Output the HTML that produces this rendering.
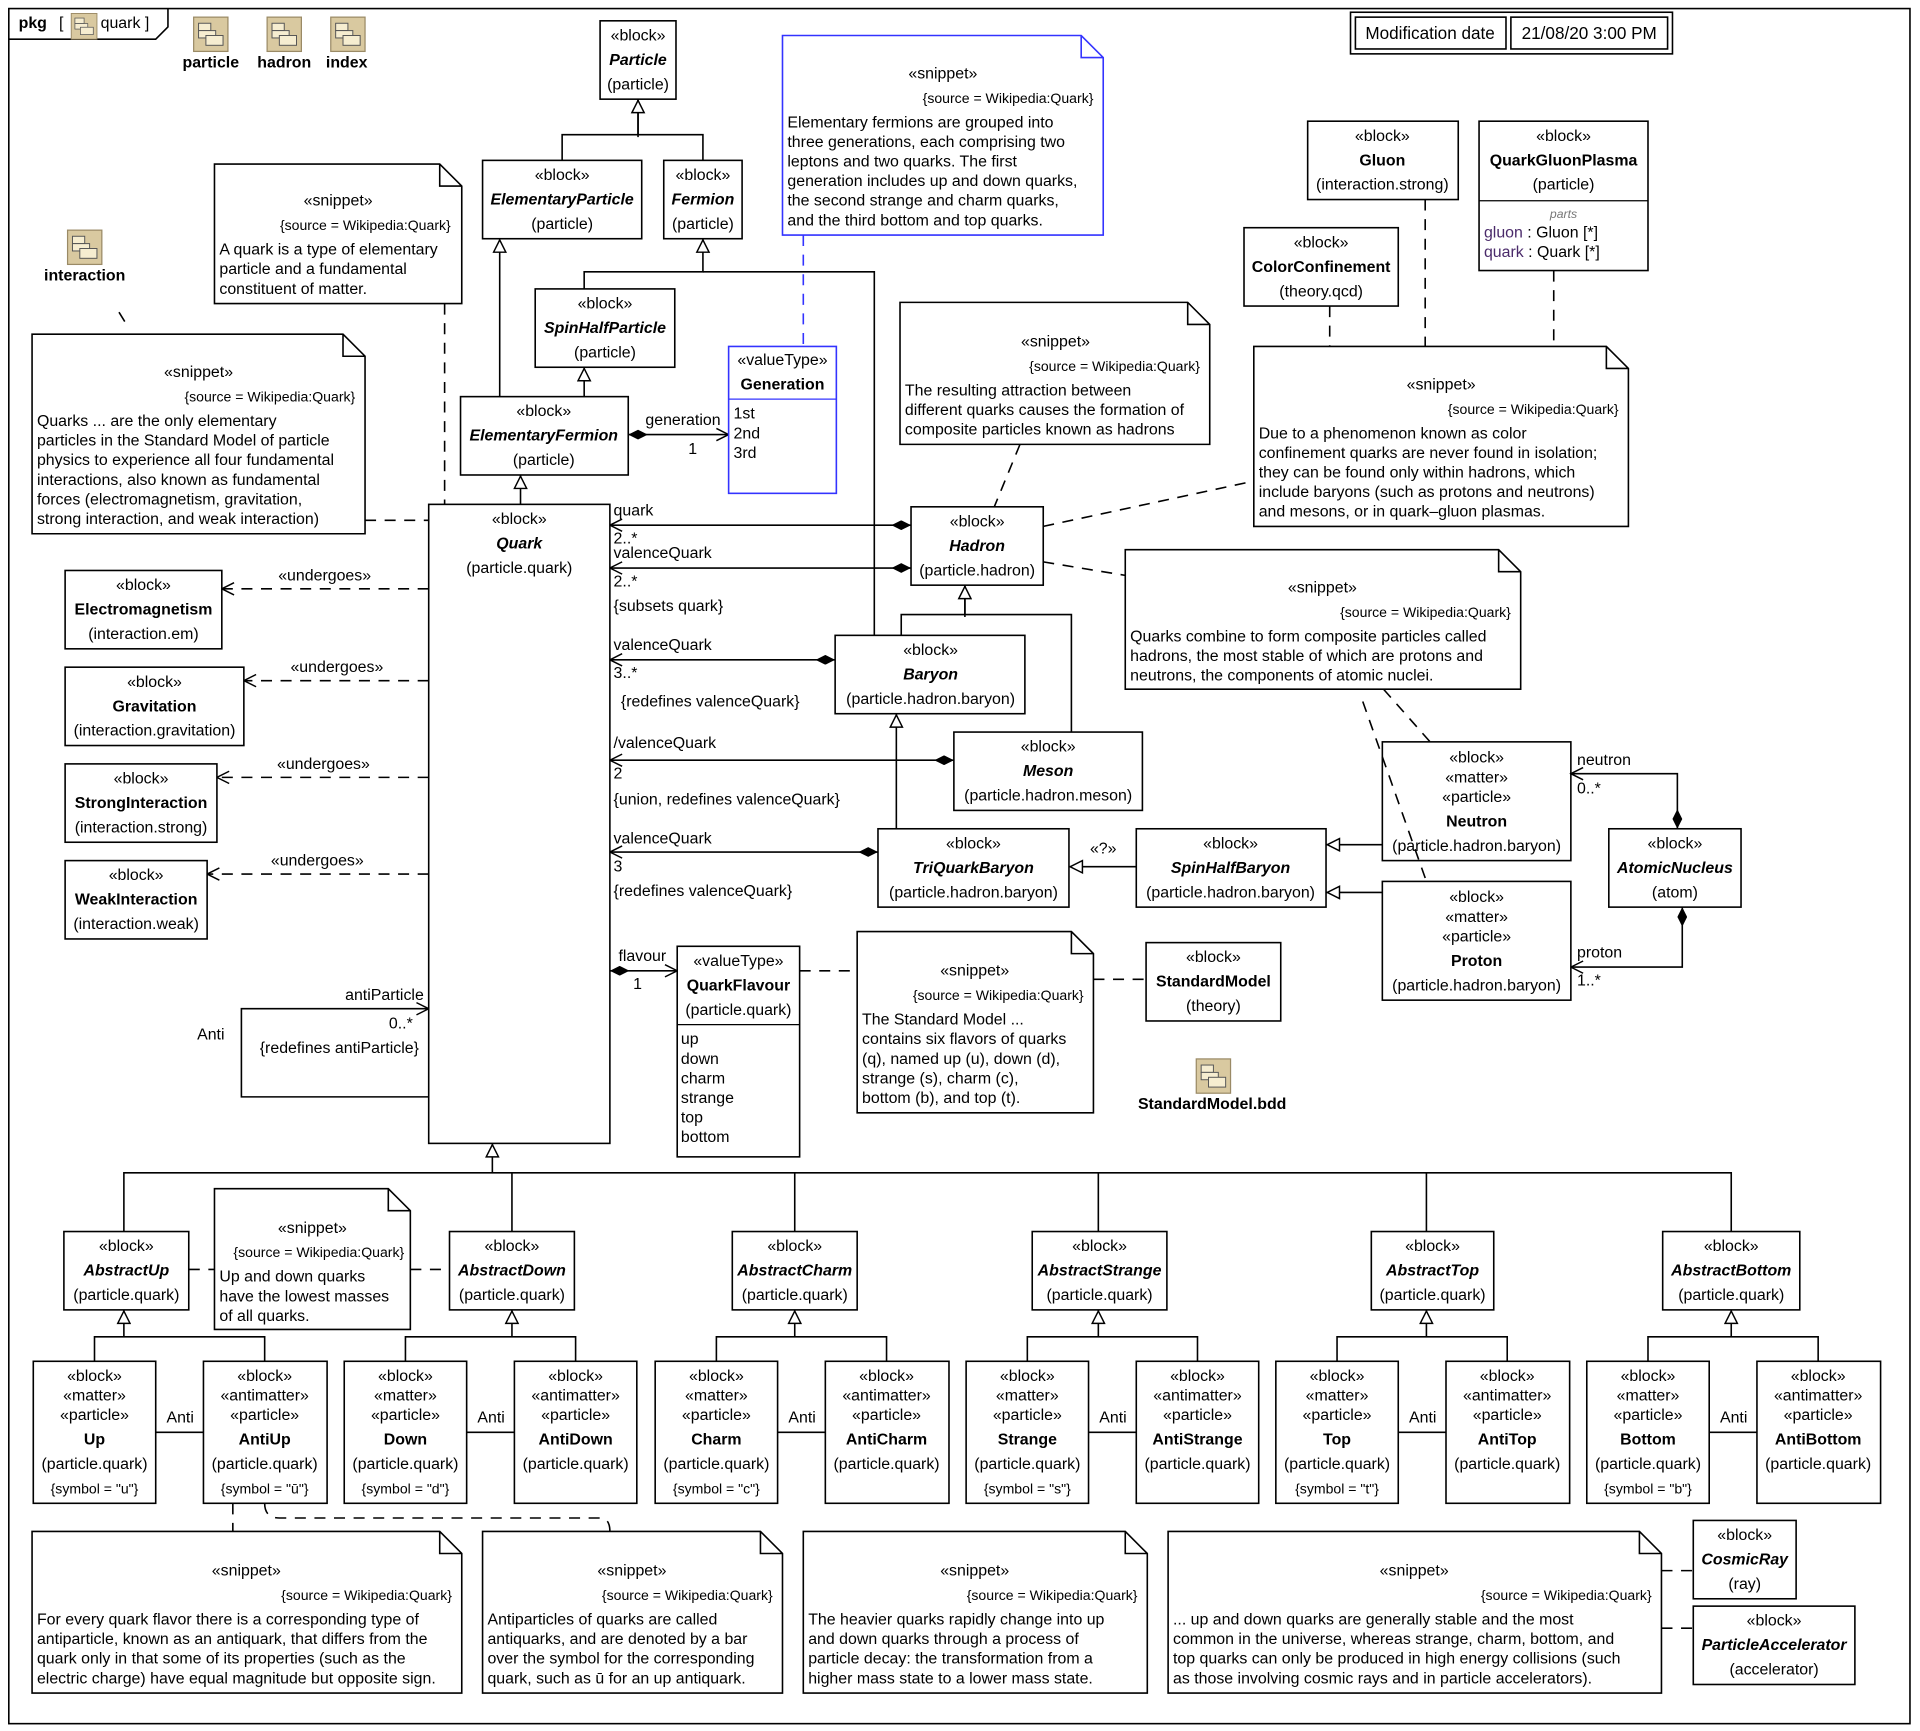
<!DOCTYPE html>
<html><head><meta charset="utf-8"><style>
html,body{margin:0;padding:0;background:#fff;}
svg{display:block;}
text{font-family:"Liberation Sans",Arial,sans-serif;font-size:13px;fill:#000;}
.c{text-anchor:middle;}
.e{text-anchor:end;}
.b{font-weight:bold;}
.i{font-style:italic;}
.bi{font-weight:bold;font-style:italic;}
.s{font-size:11.5px;}
.r{fill:#fff;stroke:#000;stroke-width:1.3;}
.l{fill:none;stroke:#000;stroke-width:1.3;}
.d{fill:none;stroke:#000;stroke-width:1.3;stroke-dasharray:9,7;}
</style></head><body>
<svg width="1920" height="1731" viewBox="0 0 1568 1414" xmlns="http://www.w3.org/2000/svg">
<defs>
<marker id="tri" viewBox="0 0 12 12" refX="12" refY="6" markerWidth="12" markerHeight="12" markerUnits="userSpaceOnUse" orient="auto"><path d="M1,1 L11,6 L1,11 z" fill="#fff" stroke="#000" stroke-width="1.2"/></marker>
<marker id="arr" viewBox="0 0 12 12" refX="11" refY="6" markerWidth="12" markerHeight="12" markerUnits="userSpaceOnUse" orient="auto"><path d="M1,1 L11,6 L1,11" fill="none" stroke="#000" stroke-width="1.2"/></marker>
<marker id="dia" viewBox="0 0 16 8" refX="16" refY="4" markerWidth="16" markerHeight="8" markerUnits="userSpaceOnUse" orient="auto-start-reverse"><path d="M0,4 L8,0 L16,4 L8,8 z" fill="#000"/></marker>
<g id="pk"><rect x="0" y="0" width="28" height="28" fill="#d9c9a0" stroke="#9a8a66"/><rect x="4" y="5" width="10" height="6" fill="#f6edd0" stroke="#555" stroke-width=".8"/><rect x="4" y="11" width="14" height="6" fill="#f6edd0" stroke="#555" stroke-width=".8"/><rect x="10" y="15" width="14" height="8" fill="#f6edd0" stroke="#555" stroke-width=".8"/></g>
</defs>
<rect x="0" y="0" width="1568" height="1414" fill="#fff"/>
<rect x="7" y="7" width="1553" height="1401" class="l"/>
<path d="M7,32 L127,32 L137,22 L137,7" class="l"/>
<text x="15" y="23" class="b">pkg</text><text x="48" y="23">[</text>
<use href="#pk" transform="translate(58,11) scale(0.75)"/>
<text x="82" y="23">quark ]</text>
<use href="#pk" x="158" y="14"/><text x="172" y="55" class="c b">particle</text>
<use href="#pk" x="218" y="14"/><text x="232" y="55" class="c b">hadron</text>
<use href="#pk" x="270" y="14"/><text x="283" y="55" class="c b">index</text>
<use href="#pk" x="55" y="188"/><text x="69" y="229" class="c b">interaction</text>
<use href="#pk" x="977" y="865"/><text x="990" y="906" class="c b">StandardModel.bdd</text>
<rect x="1103" y="10" width="263" height="34" class="l"/>
<rect x="1107" y="14" width="123" height="26" class="l"/><rect x="1234" y="14" width="128" height="26" class="l"/>
<text x="1168" y="32" class="c" style="font-size:14px">Modification date</text><text x="1298" y="32" class="c" style="font-size:14px">21/08/20 3:00 PM</text>

<!-- connectors -->
<path d="M459,131 V110 H574 V131 M521,110 V81" class="l"/><path d="M521,112 V81" class="l" marker-end="url(#tri)"/>
<path d="M408,324 V195" class="l" marker-end="url(#tri)"/>
<path d="M477,236 V222 H574 V195" class="l" marker-end="url(#tri)"/>
<path d="M574,222 H714 V519" class="l"/>
<path d="M477,324 V300" class="l" marker-end="url(#tri)"/>
<path d="M425,412 V388" class="l" marker-end="url(#tri)"/>
<path d="M513,355 H595" class="l" marker-start="url(#dia)" marker-end="url(#arr)"/>
<text x="527" y="347">generation</text><text x="562" y="371">1</text>
<path d="M744,429 H498" class="l" marker-start="url(#dia)" marker-end="url(#arr)"/>
<path d="M744,464 H498" class="l" marker-start="url(#dia)" marker-end="url(#arr)"/>
<path d="M682,539 H498" class="l" marker-start="url(#dia)" marker-end="url(#arr)"/>
<path d="M779,621 H498" class="l" marker-start="url(#dia)" marker-end="url(#arr)"/>
<path d="M717,696 H498" class="l" marker-start="url(#dia)" marker-end="url(#arr)"/>
<text x="501" y="421">quark</text><text x="501" y="444">2..*</text>
<text x="501" y="456">valenceQuark</text><text x="501" y="479">2..*</text><text x="501" y="499">{subsets quark}</text>
<text x="501" y="531">valenceQuark</text><text x="501" y="554">3..*</text><text x="507" y="577">{redefines valenceQuark}</text>
<text x="501" y="611">/valenceQuark</text><text x="501" y="636">2</text><text x="501" y="657">{union, redefines valenceQuark}</text>
<text x="501" y="689">valenceQuark</text><text x="501" y="712">3</text><text x="501" y="732">{redefines valenceQuark}</text>
<path d="M736,519 V502 H875 V598 M788,502 V478" class="l"/><path d="M788,504 V478" class="l" marker-end="url(#tri)"/>
<path d="M732,677 V583" class="l" marker-end="url(#tri)"/>
<path d="M928,708 H873" class="l" marker-end="url(#tri)"/><text x="901" y="697" class="c">«?»</text>
<path d="M1129,690 H1083" class="l" marker-end="url(#tri)"/>
<path d="M1129,729 H1083" class="l" marker-end="url(#tri)"/>
<path d="M1370,677 V632 H1283" class="l" marker-start="url(#dia)" marker-end="url(#arr)"/>
<path d="M1374,741 V790 H1283" class="l" marker-start="url(#dia)" marker-end="url(#arr)"/>
<text x="1288" y="625">neutron</text><text x="1288" y="648">0..*</text>
<text x="1288" y="782">proton</text><text x="1288" y="805">1..*</text>
<path d="M498,793 H553" class="l" marker-start="url(#dia)" marker-end="url(#arr)"/>
<text x="505" y="785">flavour</text><text x="517" y="808">1</text>
<path d="M350,896 H197 V824 H350" class="l" marker-end="url(#arr)"/>
<text x="346" y="817" class="e">antiParticle</text><text x="337" y="840" class="e">0..*</text>
<text x="277" y="860" class="c">{redefines antiParticle}</text><text x="172" y="849" class="c">Anti</text>
<path d="M350,481 H181" class="d" marker-end="url(#arr)"/><text x="265" y="474" class="c">«undergoes»</text>
<path d="M350,556 H199" class="d" marker-end="url(#arr)"/><text x="275" y="549" class="c">«undergoes»</text>
<path d="M350,635 H177" class="d" marker-end="url(#arr)"/><text x="264" y="628" class="c">«undergoes»</text>
<path d="M350,714 H169" class="d" marker-end="url(#arr)"/><text x="259" y="707" class="c">«undergoes»</text>
<path d="M402,958 V934" class="l" marker-end="url(#tri)"/>
<path d="M101,1006 V958 H1414 V1006 M418,958 V1006 M649,958 V1006 M897,958 V1006 M1165,958 V1006" class="l"/>
<g class="l">
<path d="M77,1112 V1092 H216 V1112" class="l"/><path d="M101,1092 V1070" class="l" marker-end="url(#tri)"/>
<path d="M331,1112 V1092 H470 V1112" class="l"/><path d="M418,1092 V1070" class="l" marker-end="url(#tri)"/>
<path d="M585,1112 V1092 H724 V1112" class="l"/><path d="M649,1092 V1070" class="l" marker-end="url(#tri)"/>
<path d="M839,1112 V1092 H978 V1112" class="l"/><path d="M897,1092 V1070" class="l" marker-end="url(#tri)"/>
<path d="M1092,1112 V1092 H1231 V1112" class="l"/><path d="M1165,1092 V1070" class="l" marker-end="url(#tri)"/>
<path d="M1346,1112 V1092 H1485 V1112" class="l"/><path d="M1414,1092 V1070" class="l" marker-end="url(#tri)"/>
<path d="M127,1170 H166 M381,1170 H420 M635,1170 H674 M889,1170 H928 M1142,1170 H1181 M1396,1170 H1435" class="l"/>
</g>
<text x="147" y="1162" class="c">Anti</text><text x="401" y="1162" class="c">Anti</text><text x="655" y="1162" class="c">Anti</text><text x="909" y="1162" class="c">Anti</text><text x="1162" y="1162" class="c">Anti</text><text x="1416" y="1162" class="c">Anti</text>
<!-- dashed anchors -->
<path d="M363,248 V412 M298,425 H350 M97,255 L105,268 M833,363 L812,414 M852,430 L1024,393 M1086,250 V283 M1164,163 V283 M1269,221 V283 M852,459 L919,470 M1113,573 L1165,720 M1130,563 L1168,606 M653,793 H700 M893,800 H936 M154,1037 H175 M335,1037 H367 M190,1228 V1251 M216,1228 Q216,1240 228,1240 H490 Q498,1240 498,1251 M1357,1283 H1383 M1357,1330 H1383" class="d"/>
<path d="M656,192 V283" fill="none" stroke="#33f" stroke-width="1.3" stroke-dasharray="9,7"/>

<!-- blocks -->
<rect x="490" y="17" width="62" height="64" class="r"/><text x="521" y="33" class="c">«block»</text><text x="521" y="53" class="c bi">Particle</text><text x="521" y="73" class="c">(particle)</text>
<rect x="394" y="131" width="130" height="64" class="r"/><text x="459" y="147" class="c">«block»</text><text x="459" y="167" class="c bi">ElementaryParticle</text><text x="459" y="187" class="c">(particle)</text>
<rect x="542" y="131" width="64" height="64" class="r"/><text x="574" y="147" class="c">«block»</text><text x="574" y="167" class="c bi">Fermion</text><text x="574" y="187" class="c">(particle)</text>
<rect x="437" y="236" width="114" height="64" class="r"/><text x="494" y="252" class="c">«block»</text><text x="494" y="272" class="c bi">SpinHalfParticle</text><text x="494" y="292" class="c">(particle)</text>
<rect x="376" y="324" width="137" height="64" class="r"/><text x="444" y="340" class="c">«block»</text><text x="444" y="360" class="c bi">ElementaryFermion</text><text x="444" y="380" class="c">(particle)</text>
<rect x="595" y="283" width="88" height="120" fill="#fff" stroke="#33f" stroke-width="1.3"/><text x="639" y="298" class="c">«valueType»</text><text x="639" y="318" class="c b">Generation</text><line x1="595" y1="326" x2="683" y2="326" stroke="#33f"/><text x="599" y="342">1st</text><text x="599" y="358">2nd</text><text x="599" y="374">3rd</text>
<rect x="350" y="412" width="148" height="522" class="r"/><text x="424" y="428" class="c">«block»</text><text x="424" y="448" class="c bi">Quark</text><text x="424" y="468" class="c">(particle.quark)</text>
<rect x="744" y="414" width="108" height="64" class="r"/><text x="798" y="430" class="c">«block»</text><text x="798" y="450" class="c bi">Hadron</text><text x="798" y="470" class="c">(particle.hadron)</text>
<rect x="682" y="519" width="155" height="64" class="r"/><text x="760" y="535" class="c">«block»</text><text x="760" y="555" class="c bi">Baryon</text><text x="760" y="575" class="c">(particle.hadron.baryon)</text>
<rect x="779" y="598" width="154" height="64" class="r"/><text x="856" y="614" class="c">«block»</text><text x="856" y="634" class="c bi">Meson</text><text x="856" y="654" class="c">(particle.hadron.meson)</text>
<rect x="717" y="677" width="156" height="64" class="r"/><text x="795" y="693" class="c">«block»</text><text x="795" y="713" class="c bi">TriQuarkBaryon</text><text x="795" y="733" class="c">(particle.hadron.baryon)</text>
<rect x="928" y="677" width="155" height="64" class="r"/><text x="1005" y="693" class="c">«block»</text><text x="1005" y="713" class="c bi">SpinHalfBaryon</text><text x="1005" y="733" class="c">(particle.hadron.baryon)</text>
<rect x="1129" y="606" width="154" height="97" class="r" fill-opacity="0"/><text x="1206" y="623" class="c">«block»</text><text x="1206" y="639" class="c">«matter»</text><text x="1206" y="655" class="c">«particle»</text><text x="1206" y="675" class="c b">Neutron</text><text x="1206" y="695" class="c">(particle.hadron.baryon)</text>
<rect x="1129" y="720" width="154" height="97" class="r"/><text x="1206" y="737" class="c">«block»</text><text x="1206" y="753" class="c">«matter»</text><text x="1206" y="769" class="c">«particle»</text><text x="1206" y="789" class="c b">Proton</text><text x="1206" y="809" class="c">(particle.hadron.baryon)</text>
<rect x="1314" y="677" width="108" height="64" class="r"/><text x="1368" y="693" class="c">«block»</text><text x="1368" y="713" class="c bi">AtomicNucleus</text><text x="1368" y="733" class="c">(atom)</text>
<rect x="1068" y="99" width="123" height="64" class="r"/><text x="1129" y="115" class="c">«block»</text><text x="1129" y="135" class="c b">Gluon</text><text x="1129" y="155" class="c">(interaction.strong)</text>
<rect x="1208" y="99" width="138" height="122" class="r"/><text x="1277" y="115" class="c">«block»</text><text x="1277" y="135" class="c b">QuarkGluonPlasma</text><text x="1277" y="155" class="c">(particle)</text><line x1="1208" y1="164" x2="1346" y2="164" stroke="#000"/><text x="1277" y="178" class="c i" style="font-size:10px;fill:#777">parts</text><text x="1212" y="194"><tspan style="fill:#4a2a6a">gluon</tspan> : Gluon [*]</text><text x="1212" y="210"><tspan style="fill:#4a2a6a">quark</tspan> : Quark [*]</text>
<rect x="1016" y="186" width="126" height="64" class="r"/><text x="1079" y="202" class="c">«block»</text><text x="1079" y="222" class="c b">ColorConfinement</text><text x="1079" y="242" class="c">(theory.qcd)</text>
<rect x="53" y="466" width="128" height="64" class="r"/><text x="117" y="482" class="c">«block»</text><text x="117" y="502" class="c b">Electromagnetism</text><text x="117" y="522" class="c">(interaction.em)</text>
<rect x="53" y="545" width="146" height="64" class="r"/><text x="126" y="561" class="c">«block»</text><text x="126" y="581" class="c b">Gravitation</text><text x="126" y="601" class="c">(interaction.gravitation)</text>
<rect x="53" y="624" width="124" height="64" class="r"/><text x="115" y="640" class="c">«block»</text><text x="115" y="660" class="c b">StrongInteraction</text><text x="115" y="680" class="c">(interaction.strong)</text>
<rect x="53" y="703" width="116" height="64" class="r"/><text x="111" y="719" class="c">«block»</text><text x="111" y="739" class="c b">WeakInteraction</text><text x="111" y="759" class="c">(interaction.weak)</text>
<rect x="553" y="773" width="100" height="172" class="r"/><text x="603" y="789" class="c">«valueType»</text><text x="603" y="809" class="c b">QuarkFlavour</text><text x="603" y="829" class="c">(particle.quark)</text><line x1="553" y1="837" x2="653" y2="837" stroke="#000"/>
<text x="556" y="853">up</text><text x="556" y="869">down</text><text x="556" y="885">charm</text><text x="556" y="901">strange</text><text x="556" y="917">top</text><text x="556" y="933">bottom</text>
<rect x="936" y="770" width="110" height="64" class="r"/><text x="991" y="786" class="c">«block»</text><text x="991" y="806" class="c b">StandardModel</text><text x="991" y="826" class="c">(theory)</text>
<g>
<rect x="52" y="1006" width="102" height="64" class="r"/><text x="103" y="1022" class="c">«block»</text><text x="103" y="1042" class="c bi">AbstractUp</text><text x="103" y="1062" class="c">(particle.quark)</text>
<rect x="367" y="1006" width="102" height="64" class="r"/><text x="418" y="1022" class="c">«block»</text><text x="418" y="1042" class="c bi">AbstractDown</text><text x="418" y="1062" class="c">(particle.quark)</text>
<rect x="598" y="1006" width="102" height="64" class="r"/><text x="649" y="1022" class="c">«block»</text><text x="649" y="1042" class="c bi">AbstractCharm</text><text x="649" y="1062" class="c">(particle.quark)</text>
<rect x="843" y="1006" width="110" height="64" class="r"/><text x="898" y="1022" class="c">«block»</text><text x="898" y="1042" class="c bi">AbstractStrange</text><text x="898" y="1062" class="c">(particle.quark)</text>
<rect x="1120" y="1006" width="100" height="64" class="r"/><text x="1170" y="1022" class="c">«block»</text><text x="1170" y="1042" class="c bi">AbstractTop</text><text x="1170" y="1062" class="c">(particle.quark)</text>
<rect x="1358" y="1006" width="112" height="64" class="r"/><text x="1414" y="1022" class="c">«block»</text><text x="1414" y="1042" class="c bi">AbstractBottom</text><text x="1414" y="1062" class="c">(particle.quark)</text>
</g>
<g>
<rect x="27" y="1112" width="100" height="116" class="r"/><text x="77" y="1128" class="c">«block»</text><text x="77" y="1144" class="c">«matter»</text><text x="77" y="1160" class="c">«particle»</text><text x="77" y="1180" class="c b">Up</text><text x="77" y="1200" class="c">(particle.quark)</text><text x="77" y="1220" class="c s">{symbol = "u"}</text>
<rect x="166" y="1112" width="101" height="116" class="r"/><text x="216" y="1128" class="c">«block»</text><text x="216" y="1144" class="c">«antimatter»</text><text x="216" y="1160" class="c">«particle»</text><text x="216" y="1180" class="c b">AntiUp</text><text x="216" y="1200" class="c">(particle.quark)</text><text x="216" y="1220" class="c s">{symbol = "ū"}</text>
<rect x="281" y="1112" width="100" height="116" class="r"/><text x="331" y="1128" class="c">«block»</text><text x="331" y="1144" class="c">«matter»</text><text x="331" y="1160" class="c">«particle»</text><text x="331" y="1180" class="c b">Down</text><text x="331" y="1200" class="c">(particle.quark)</text><text x="331" y="1220" class="c s">{symbol = "d"}</text>
<rect x="420" y="1112" width="100" height="116" class="r"/><text x="470" y="1128" class="c">«block»</text><text x="470" y="1144" class="c">«antimatter»</text><text x="470" y="1160" class="c">«particle»</text><text x="470" y="1180" class="c b">AntiDown</text><text x="470" y="1200" class="c">(particle.quark)</text>
<rect x="535" y="1112" width="100" height="116" class="r"/><text x="585" y="1128" class="c">«block»</text><text x="585" y="1144" class="c">«matter»</text><text x="585" y="1160" class="c">«particle»</text><text x="585" y="1180" class="c b">Charm</text><text x="585" y="1200" class="c">(particle.quark)</text><text x="585" y="1220" class="c s">{symbol = "c"}</text>
<rect x="674" y="1112" width="101" height="116" class="r"/><text x="724" y="1128" class="c">«block»</text><text x="724" y="1144" class="c">«antimatter»</text><text x="724" y="1160" class="c">«particle»</text><text x="724" y="1180" class="c b">AntiCharm</text><text x="724" y="1200" class="c">(particle.quark)</text>
<rect x="789" y="1112" width="100" height="116" class="r"/><text x="839" y="1128" class="c">«block»</text><text x="839" y="1144" class="c">«matter»</text><text x="839" y="1160" class="c">«particle»</text><text x="839" y="1180" class="c b">Strange</text><text x="839" y="1200" class="c">(particle.quark)</text><text x="839" y="1220" class="c s">{symbol = "s"}</text>
<rect x="928" y="1112" width="100" height="116" class="r"/><text x="978" y="1128" class="c">«block»</text><text x="978" y="1144" class="c">«antimatter»</text><text x="978" y="1160" class="c">«particle»</text><text x="978" y="1180" class="c b">AntiStrange</text><text x="978" y="1200" class="c">(particle.quark)</text>
<rect x="1042" y="1112" width="100" height="116" class="r"/><text x="1092" y="1128" class="c">«block»</text><text x="1092" y="1144" class="c">«matter»</text><text x="1092" y="1160" class="c">«particle»</text><text x="1092" y="1180" class="c b">Top</text><text x="1092" y="1200" class="c">(particle.quark)</text><text x="1092" y="1220" class="c s">{symbol = "t"}</text>
<rect x="1181" y="1112" width="101" height="116" class="r"/><text x="1231" y="1128" class="c">«block»</text><text x="1231" y="1144" class="c">«antimatter»</text><text x="1231" y="1160" class="c">«particle»</text><text x="1231" y="1180" class="c b">AntiTop</text><text x="1231" y="1200" class="c">(particle.quark)</text>
<rect x="1296" y="1112" width="100" height="116" class="r"/><text x="1346" y="1128" class="c">«block»</text><text x="1346" y="1144" class="c">«matter»</text><text x="1346" y="1160" class="c">«particle»</text><text x="1346" y="1180" class="c b">Bottom</text><text x="1346" y="1200" class="c">(particle.quark)</text><text x="1346" y="1220" class="c s">{symbol = "b"}</text>
<rect x="1435" y="1112" width="101" height="116" class="r"/><text x="1485" y="1128" class="c">«block»</text><text x="1485" y="1144" class="c">«antimatter»</text><text x="1485" y="1160" class="c">«particle»</text><text x="1485" y="1180" class="c b">AntiBottom</text><text x="1485" y="1200" class="c">(particle.quark)</text>
</g>
<rect x="1383" y="1242" width="84" height="64" class="r"/><text x="1425" y="1258" class="c">«block»</text><text x="1425" y="1278" class="c bi">CosmicRay</text><text x="1425" y="1298" class="c">(ray)</text>
<rect x="1383" y="1312" width="132" height="64" class="r"/><text x="1449" y="1328" class="c">«block»</text><text x="1449" y="1348" class="c bi">ParticleAccelerator</text><text x="1449" y="1368" class="c">(accelerator)</text>

<!-- snippets -->
<path d="M175,134 H359 L377,152 V248 H175 Z M359,134 V152 H377" class="r"/>
<text x="276" y="168" class="c">«snippet»</text><text x="368" y="188" class="e s">{source = Wikipedia:Quark}</text>
<text x="179" y="208">A quark is a type of elementary</text><text x="179" y="224">particle and a fundamental</text><text x="179" y="240">constituent of matter.</text>

<path d="M26,273 H280 L298,291 V436 H26 Z M280,273 V291 H298" class="r"/>
<text x="162" y="308" class="c">«snippet»</text><text x="290" y="328" class="e s">{source = Wikipedia:Quark}</text>
<text x="30" y="348">Quarks ... are the only elementary</text><text x="30" y="364">particles in the Standard Model of particle</text><text x="30" y="380">physics to experience all four fundamental</text><text x="30" y="396">interactions, also known as fundamental</text><text x="30" y="412">forces (electromagnetism, gravitation,</text><text x="30" y="428">strong interaction, and weak interaction)</text>

<path d="M639,29 H883 L901,47 V192 H639 Z M883,29 V47 H901" fill="#fff" stroke="#33f" stroke-width="1.3"/>
<text x="770" y="64" class="c">«snippet»</text><text x="893" y="84" class="e s">{source = Wikipedia:Quark}</text>
<text x="643" y="104">Elementary fermions are grouped into</text><text x="643" y="120">three generations, each comprising two</text><text x="643" y="136">leptons and two quarks. The first</text><text x="643" y="152">generation includes up and down quarks,</text><text x="643" y="168">the second strange and charm quarks,</text><text x="643" y="184">and the third bottom and top quarks.</text>

<path d="M735,247 H970 L988,265 V363 H735 Z M970,247 V265 H988" class="r"/>
<text x="862" y="283" class="c">«snippet»</text><text x="980" y="303" class="e s">{source = Wikipedia:Quark}</text>
<text x="739" y="323">The resulting attraction between</text><text x="739" y="339">different quarks causes the formation of</text><text x="739" y="355">composite particles known as hadrons</text>

<path d="M1024,283 H1312 L1330,301 V430 H1024 Z M1312,283 V301 H1330" class="r"/>
<text x="1177" y="318" class="c">«snippet»</text><text x="1322" y="338" class="e s">{source = Wikipedia:Quark}</text>
<text x="1028" y="358">Due to a phenomenon known as color</text><text x="1028" y="374">confinement quarks are never found in isolation;</text><text x="1028" y="390">they can be found only within hadrons, which</text><text x="1028" y="406">include baryons (such as protons and neutrons)</text><text x="1028" y="422">and mesons, or in quark–gluon plasmas.</text>

<path d="M919,449 H1224 L1242,467 V563 H919 Z M1224,449 V467 H1242" class="r"/>
<text x="1080" y="484" class="c">«snippet»</text><text x="1234" y="504" class="e s">{source = Wikipedia:Quark}</text>
<text x="923" y="524">Quarks combine to form composite particles called</text><text x="923" y="540">hadrons, the most stable of which are protons and</text><text x="923" y="556">neutrons, the components of atomic nuclei.</text>

<path d="M700,761 H875 L893,779 V909 H700 Z M875,761 V779 H893" class="r"/>
<text x="796" y="797" class="c">«snippet»</text><text x="885" y="817" class="e s">{source = Wikipedia:Quark}</text>
<text x="704" y="837">The Standard Model ...</text><text x="704" y="853">contains six flavors of quarks</text><text x="704" y="869">(q), named up (u), down (d),</text><text x="704" y="885">strange (s), charm (c),</text><text x="704" y="901">bottom (b), and top (t).</text>

<path d="M175,971 H317 L335,989 V1086 H175 Z M317,971 V989 H335" class="r"/>
<text x="255" y="1007" class="c">«snippet»</text><text x="330" y="1027" class="e s">{source = Wikipedia:Quark}</text>
<text x="179" y="1047">Up and down quarks</text><text x="179" y="1063">have the lowest masses</text><text x="179" y="1079">of all quarks.</text>

<path d="M26,1251 H359 L377,1269 V1383 H26 Z M359,1251 V1269 H377" class="r"/>
<text x="201" y="1287" class="c">«snippet»</text><text x="369" y="1307" class="e s">{source = Wikipedia:Quark}</text>
<text x="30" y="1327">For every quark flavor there is a corresponding type of</text><text x="30" y="1343">antiparticle, known as an antiquark, that differs from the</text><text x="30" y="1359">quark only in that some of its properties (such as the</text><text x="30" y="1375">electric charge) have equal magnitude but opposite sign.</text>

<path d="M394,1251 H621 L639,1269 V1383 H394 Z M621,1251 V1269 H639" class="r"/>
<text x="516" y="1287" class="c">«snippet»</text><text x="631" y="1307" class="e s">{source = Wikipedia:Quark}</text>
<text x="398" y="1327">Antiparticles of quarks are called</text><text x="398" y="1343">antiquarks, and are denoted by a bar</text><text x="398" y="1359">over the symbol for the corresponding</text><text x="398" y="1375">quark, such as ū for an up antiquark.</text>

<path d="M656,1251 H919 L937,1269 V1383 H656 Z M919,1251 V1269 H937" class="r"/>
<text x="796" y="1287" class="c">«snippet»</text><text x="929" y="1307" class="e s">{source = Wikipedia:Quark}</text>
<text x="660" y="1327">The heavier quarks rapidly change into up</text><text x="660" y="1343">and down quarks through a process of</text><text x="660" y="1359">particle decay: the transformation from a</text><text x="660" y="1375">higher mass state to a lower mass state.</text>

<path d="M954,1251 H1339 L1357,1269 V1383 H954 Z M1339,1251 V1269 H1357" class="r"/>
<text x="1155" y="1287" class="c">«snippet»</text><text x="1349" y="1307" class="e s">{source = Wikipedia:Quark}</text>
<text x="958" y="1327">... up and down quarks are generally stable and the most</text><text x="958" y="1343">common in the universe, whereas strange, charm, bottom, and</text><text x="958" y="1359">top quarks can only be produced in high energy collisions (such</text><text x="958" y="1375">as those involving cosmic rays and in particle accelerators).</text>
</svg>
</body></html>
